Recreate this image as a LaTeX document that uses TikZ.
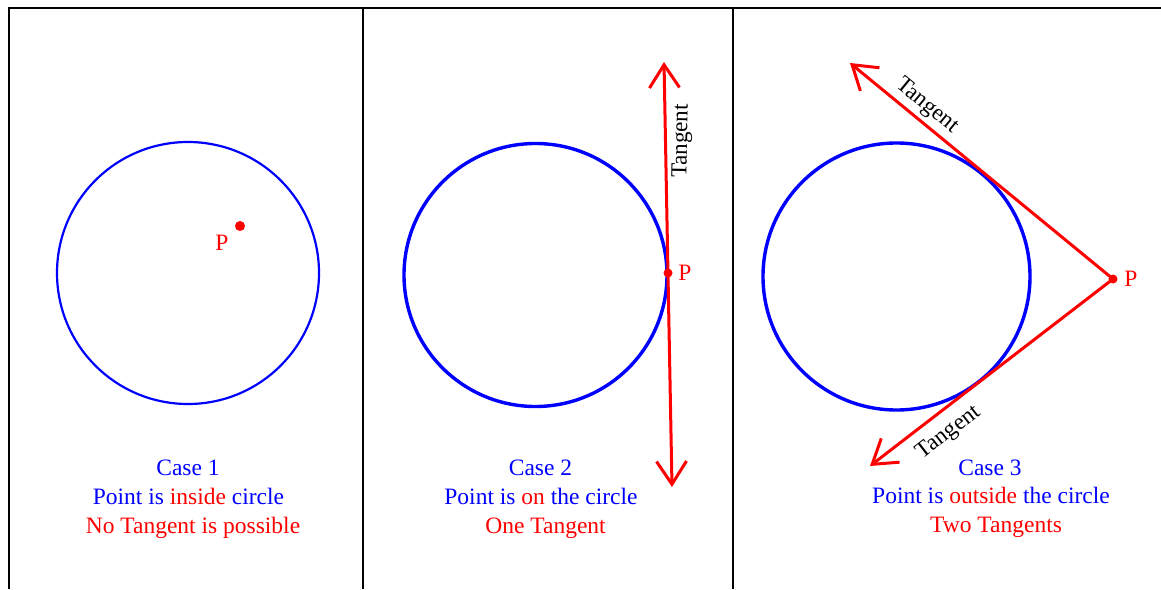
\documentclass[tikz,border=0pt]{standalone}
\usepackage{fontspec}
\setmainfont{Liberation Serif}
\usetikzlibrary{arrows.meta}
\definecolor{cblue}{RGB}{0,0,255}
\definecolor{cred}{RGB}{255,0,0}
\begin{document}
\begin{tikzpicture}[x=1pt,y=-1pt,
  frame/.style={line width=2.8pt,black},
  circ/.style={draw=cblue,circle,inner sep=0pt},
  tanline/.style={cred,line width=3pt,-{Straight Barb[length=23pt,width=30pt]}},
  tanboth/.style={cred,line width=3pt,{Straight Barb[length=23pt,width=30pt]}-{Straight Barb[length=23pt,width=30pt]}},
  pdot/.style={circle,fill=cred,inner sep=0pt,minimum size=9pt},
  plabel/.style={text=cred,font=\fontsize{23.5}{27}\selectfont,inner sep=0pt},
  tlabel/.style={text=black,font=\fontsize{23}{26}\selectfont,inner sep=0pt},
  txt/.style={font=\fontsize{23.5}{27}\selectfont,anchor=base,inner sep=0pt}]
\useasboundingbox (0,0) rectangle (1161,589);
% frame
\draw[frame] (9,589) -- (9,8) -- (1161,8);
\draw[frame] (363,8) -- (363,589);
\draw[frame] (733,8) -- (733,589);
% Case 1
\node[circ,line width=2.2pt,minimum size=262pt] (c1) at (188,273) {};
\node[pdot,minimum size=10pt] (p1) at (240,226) {};
\node[plabel] (p1l) at (222,243) {P};
\node[txt,text=cblue] (t11) at (188,475) {Case 1};
\node[txt,text=cblue] (t12) at (188.5,504) {Point is \textcolor{cred}{inside} circle};
\node[txt,text=cred] (t13) at (193,533) {No Tangent is possible};
% Case 2
\node[circ,line width=3.4pt,minimum size=263pt] (c2) at (535.5,275) {};
\coordinate (a2) at (664,62);
\coordinate (b2) at (672,487);
\draw[tanboth] (a2) -- (b2);
\node[pdot] (p2) at (668,273) {};
\node[plabel] (p2l) at (685,273) {P};
\node[tlabel,rotate=88.9] (tl2) at (682,141) {Tangent};
\node[txt,text=cblue] (t21) at (540.5,475) {Case 2};
\node[txt,text=cblue] (t22) at (541,504) {Point is \textcolor{cred}{on} the circle};
\node[txt,text=cred] (t23) at (545.5,533) {One Tangent};
% Case 3
\node[circ,line width=3.4pt,minimum size=267pt] (c3) at (896.5,276.5) {};
\node[pdot] (p3) at (1113,279) {};
\coordinate (a3) at (850,63);
\coordinate (b3) at (870,466);
\draw[tanline] (p3.center) -- (a3);
\draw[tanline] (p3.center) -- (b3);
\node[plabel] (p3l) at (1131,279) {P};
\node[tlabel,rotate=-39.5] (tl3a) at (927,106) {Tangent};
\node[tlabel,rotate=37.7] (tl3b) at (949,433) {Tangent};
\node[txt,text=cblue] (t31) at (990,475) {Case 3};
\node[txt,text=cblue] (t32) at (991,503) {Point is \textcolor{cred}{outside} the circle};
\node[txt,text=cred] (t33) at (996,532) {Two Tangents};
\end{tikzpicture}
\end{document}
